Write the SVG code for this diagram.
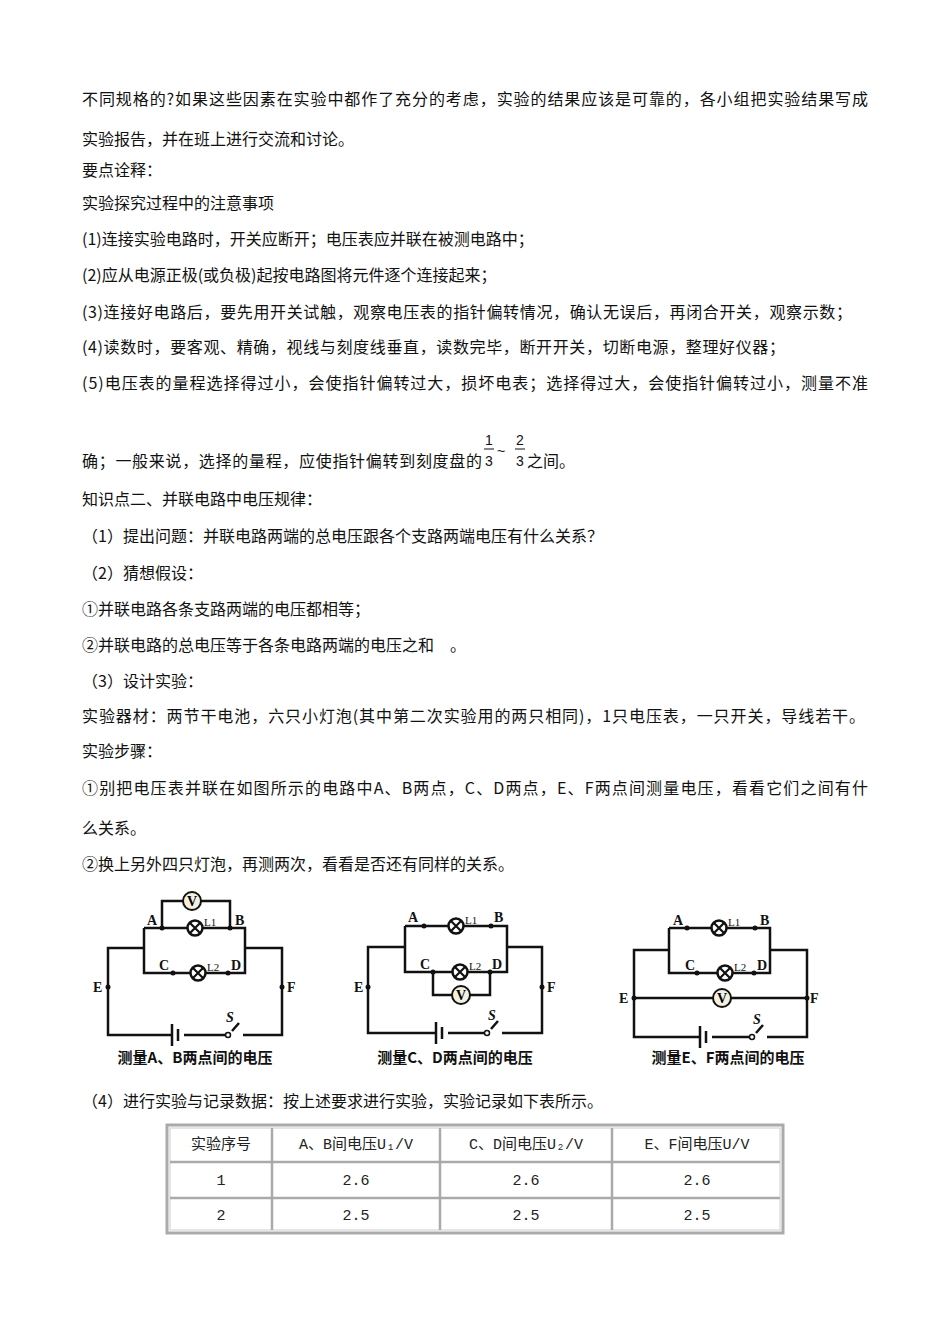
<svg xmlns="http://www.w3.org/2000/svg" width="950" height="1344" viewBox="0 0 950 1344">
<style>
.t{font-family:"Noto Sans CJK SC","Liberation Serif",serif;font-size:16px;fill:#111}
.w{fill:none;stroke:#111;stroke-width:2.5}
.lb{font-family:"Liberation Serif",serif;font-weight:bold;font-size:14px;fill:#111}
.ll{font-family:"Liberation Serif",serif;font-size:11px;fill:#111}
.cap{font-family:"Noto Sans CJK SC",sans-serif;font-weight:bold;font-size:15px;fill:#111}
.tc{font-family:"Liberation Mono","Noto Sans CJK SC",monospace;font-size:15px;fill:#222;text-anchor:middle}
</style>
<defs>
<g id="lamp"><circle r="7.5" fill="#fff" stroke="#111" stroke-width="2.5"/><path d="M-5,-5L5,5M-5,5L5,-5" stroke="#111" stroke-width="2.2"/></g>
<g id="vm"><circle r="9" fill="#f4f0e0" stroke="#111" stroke-width="2"/><text y="5" text-anchor="middle" font-family="Liberation Serif,serif" font-weight="bold" font-size="14">V</text></g>
<g id="dot"><circle r="2.5" fill="#111"/></g>
</defs>
<rect width="950" height="1344" fill="#fff"/>
<g id="text">
<text class="t" x="82" y="105" textLength="786">不同规格的?如果这些因素在实验中都作了充分的考虑，实验的结果应该是可靠的，各小组把实验结果写成</text>
<text class="t" x="82" y="145">实验报告，并在班上进行交流和讨论。</text>
<text class="t" x="82" y="176">要点诠释：</text>
<text class="t" x="82" y="209">实验探究过程中的注意事项</text>
<text class="t" x="82" y="245">(1)连接实验电路时，开关应断开；电压表应并联在被测电路中；</text>
<text class="t" x="82" y="281">(2)应从电源正极(或负极)起按电路图将元件逐个连接起来；</text>
<text class="t" x="82" y="318" textLength="770">(3)连接好电路后，要先用开关试触，观察电压表的指针偏转情况，确认无误后，再闭合开关，观察示数；</text>
<text class="t" x="82" y="353" textLength="703">(4)读数时，要客观、精确，视线与刻度线垂直，读数完毕，断开开关，切断电源，整理好仪器；</text>
<text class="t" x="82" y="389" textLength="786">(5)电压表的量程选择得过小，会使指针偏转过大，损坏电表；选择得过大，会使指针偏转过小，测量不准</text>
<text class="t" x="82" y="467" textLength="400">确；一般来说，选择的量程，应使指针偏转到刻度盘的</text>
<g font-family="Liberation Sans,sans-serif" font-size="14" fill="#111">
<text x="485" y="445">1</text><line x1="484" y1="449" x2="494" y2="449" stroke="#111"/><text x="485" y="466">3</text>
<text x="497" y="456">~</text>
<text x="516" y="445">2</text><line x1="515" y1="449" x2="525" y2="449" stroke="#111"/><text x="516" y="466">3</text>
</g>
<text class="t" x="527" y="467">之间。</text>
<text class="t" x="82" y="505">知识点二、并联电路中电压规律：</text>
<text class="t" x="82" y="542">（1）提出问题：并联电路两端的总电压跟各个支路两端电压有什么关系？</text>
<text class="t" x="82" y="579">（2）猜想假设：</text>
<text class="t" x="82" y="615">①并联电路各条支路两端的电压都相等；</text>
<text class="t" x="82" y="651">②并联电路的总电压等于各条电路两端的电压之和　。</text>
<text class="t" x="82" y="687">（3）设计实验：</text>
<text class="t" x="82" y="722" textLength="783">实验器材：两节干电池，六只小灯泡(其中第二次实验用的两只相同)，1只电压表，一只开关，导线若干。</text>
<text class="t" x="82" y="757">实验步骤：</text>
<text class="t" x="82" y="794" textLength="786">①别把电压表并联在如图所示的电路中A、B两点，C、D两点，E、F两点间测量电压，看看它们之间有什</text>
<text class="t" x="82" y="834">么关系。</text>
<text class="t" x="82" y="870">②换上另外四只灯泡，再测两次，看看是否还有同样的关系。</text>
<text class="t" x="82" y="1107">（4）进行实验与记录数据：按上述要求进行实验，实验记录如下表所示。</text>
</g>
<g id="circuit1">
<path class="w" d="M144,948H108V1035H172M184,1035H225M239,1023L232,1031M243,1035H282V948H245M144,928V973H245V928H144M162,928V901H230V928"/>
<path class="w" d="M172,1024V1046M178,1029V1041"/>
<circle cx="228" cy="1035" r="2.5" fill="#fff" stroke="#111" stroke-width="1.5"/>
<use href="#vm" x="192" y="901"/><use href="#lamp" x="195" y="928"/><use href="#lamp" x="198" y="973"/>
<use href="#dot" x="162" y="928"/><use href="#dot" x="230" y="928"/><use href="#dot" x="173" y="973"/><use href="#dot" x="228" y="973"/>
<use href="#dot" x="108" y="987"/><use href="#dot" x="282" y="987"/>
<text class="lb" x="147" y="925">A</text><text class="lb" x="235" y="925">B</text>
<text class="lb" x="159" y="970">C</text><text class="lb" x="231" y="970">D</text>
<text class="lb" x="93" y="992">E</text><text class="lb" x="287" y="992">F</text>
<text class="lb" x="226" y="1022" font-style="italic">S</text>
<text class="ll" x="204" y="926">L1</text><text class="ll" x="207" y="971">L2</text>
<text class="cap" x="195" y="1063" text-anchor="middle">测量A、B两点间的电压</text>
</g>
<g id="circuit2">
<path class="w" d="M405,947H368V1033H436M448,1033H484M498,1021L491,1029M502,1033H542V947H507M405,926V972H507V926H405M433,972V995H490V972"/>
<path class="w" d="M436,1022V1044M442,1027V1039"/>
<circle cx="487" cy="1033" r="2.5" fill="#fff" stroke="#111" stroke-width="1.5"/>
<use href="#vm" x="461" y="995"/><use href="#lamp" x="456" y="926"/><use href="#lamp" x="460" y="972"/>
<use href="#dot" x="424" y="926"/><use href="#dot" x="491" y="926"/><use href="#dot" x="433" y="972"/><use href="#dot" x="490" y="972"/>
<use href="#dot" x="368" y="987"/><use href="#dot" x="542" y="987"/>
<text class="lb" x="408" y="922">A</text><text class="lb" x="494" y="922">B</text>
<text class="lb" x="420" y="969">C</text><text class="lb" x="492" y="969">D</text>
<text class="lb" x="354" y="992">E</text><text class="lb" x="547" y="992">F</text>
<text class="lb" x="488" y="1020" font-style="italic">S</text>
<text class="ll" x="465" y="924">L1</text><text class="ll" x="469" y="970">L2</text>
<text class="cap" x="455" y="1063" text-anchor="middle">测量C、D两点间的电压</text>
</g>
<g id="circuit3">
<path class="w" d="M669,950H634V1037H700M712,1037H749M763,1025L756,1033M767,1037H807V950H770M669,928V973H770V928H669M634,998H807"/>
<path class="w" d="M700,1026V1048M706,1031V1043"/>
<circle cx="752" cy="1037" r="2.5" fill="#fff" stroke="#111" stroke-width="1.5"/>
<use href="#vm" x="722" y="998"/><use href="#lamp" x="719" y="928"/><use href="#lamp" x="725" y="973"/>
<use href="#dot" x="687" y="928"/><use href="#dot" x="755" y="928"/><use href="#dot" x="697" y="973"/><use href="#dot" x="754" y="973"/>
<use href="#dot" x="634" y="998"/><use href="#dot" x="807" y="998"/>
<text class="lb" x="673" y="925">A</text><text class="lb" x="760" y="925">B</text>
<text class="lb" x="685" y="970">C</text><text class="lb" x="757" y="970">D</text>
<text class="lb" x="619" y="1003">E</text><text class="lb" x="810" y="1003">F</text>
<text class="lb" x="753" y="1024" font-style="italic">S</text>
<text class="ll" x="728" y="926">L1</text><text class="ll" x="734" y="971">L2</text>
<text class="cap" x="728" y="1063" text-anchor="middle">测量E、F两点间的电压</text>
</g>
<g id="table">
<rect x="167" y="1125" width="616" height="108" fill="none" stroke="#aaa" stroke-width="3"/>
<rect x="170" y="1128" width="610" height="102" fill="none" stroke="#ccc" stroke-width="1"/>
<path d="M272,1128V1230M440,1128V1230M612,1128V1230M170,1162H780M170,1198H780" stroke="#aaa" stroke-width="2.5"/>
<text class="tc" x="221" y="1149">实验序号</text>
<text class="tc" x="356" y="1149">A、B间电压U₁/V</text>
<text class="tc" x="526" y="1149">C、D间电压U₂/V</text>
<text class="tc" x="697" y="1149">E、F间电压U/V</text>
<text class="tc" x="221" y="1185">1</text><text class="tc" x="356" y="1185">2.6</text><text class="tc" x="526" y="1185">2.6</text><text class="tc" x="697" y="1185">2.6</text>
<text class="tc" x="221" y="1220">2</text><text class="tc" x="356" y="1220">2.5</text><text class="tc" x="526" y="1220">2.5</text><text class="tc" x="697" y="1220">2.5</text>
</g>
</svg>
